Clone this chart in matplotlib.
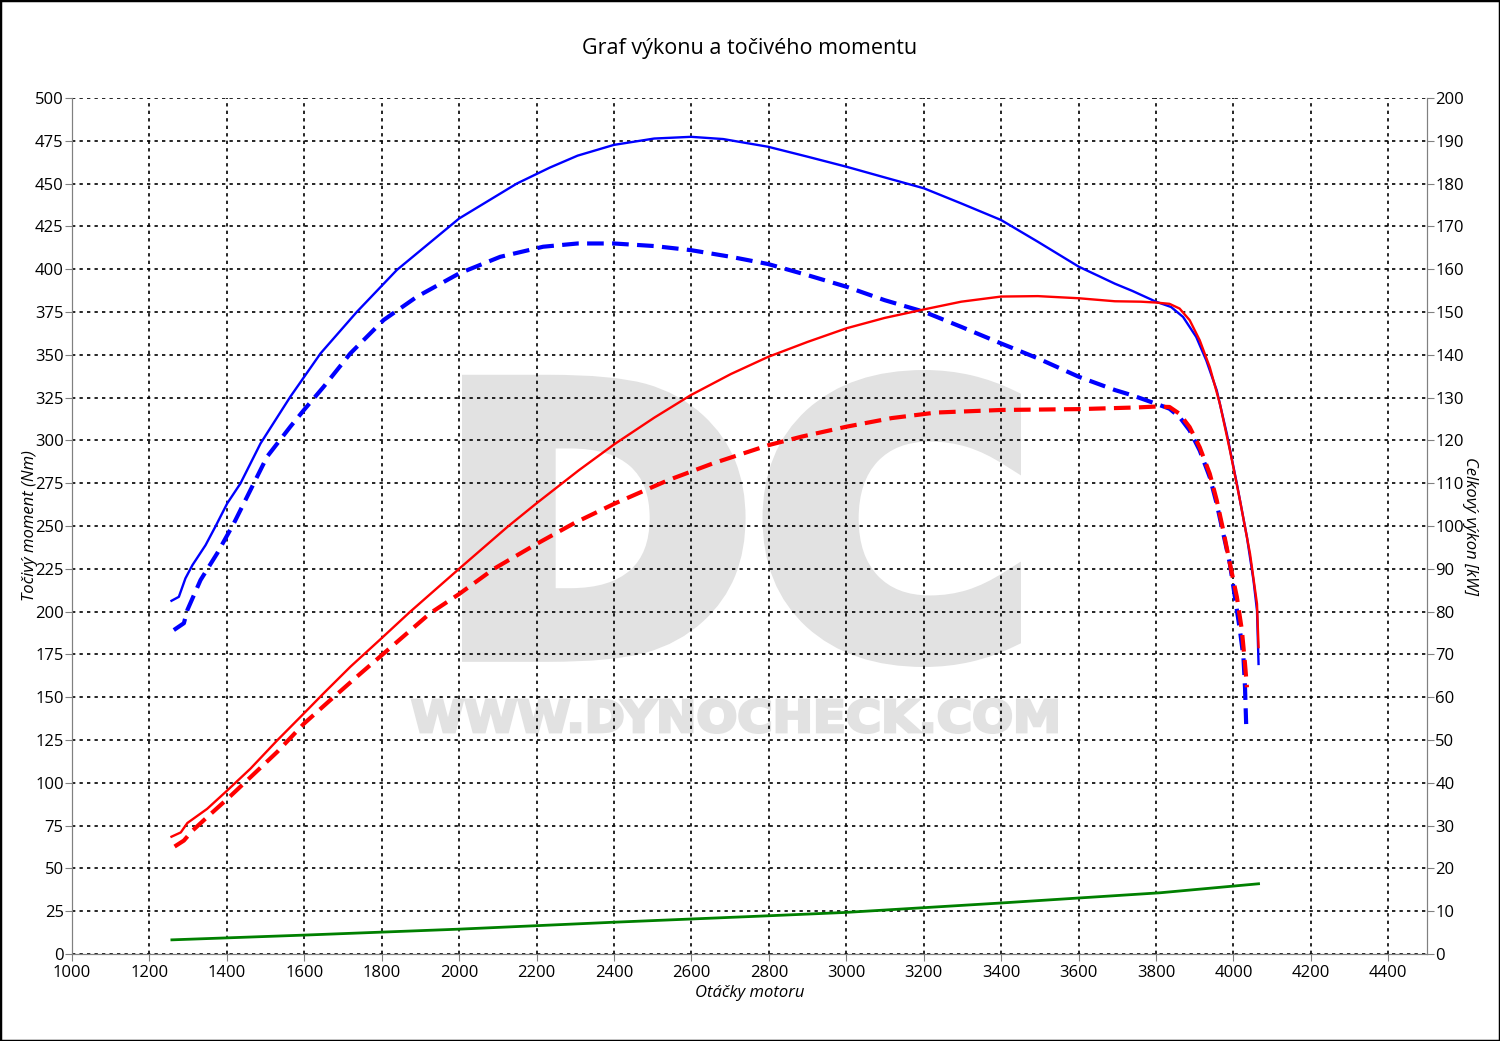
import numpy as np
import matplotlib.pyplot as plt
from matplotlib.textpath import TextPath
from matplotlib.patches import PathPatch, Rectangle
from matplotlib.font_manager import FontProperties
from matplotlib.transforms import Affine2D, IdentityTransform

plt.rcParams['font.family'] = ['Open Sans', 'DejaVu Sans']

### Data
# torque, tuned (Nm)
rpm_tq = [1257, 1276, 1293, 1311, 1345, 1371, 1401, 1435, 1487, 1564, 1642, 1736,
          1839, 2000, 2149, 2234, 2306, 2400, 2504, 2599, 2682, 2798, 2900, 3001,
          3099, 3201, 3297, 3400, 3495, 3601, 3652, 3694, 3739, 3800, 3839, 3870, 3904,
          3930, 3957, 3983, 4009, 4035, 4052, 4061, 4065]
torque = [206.3, 208.6, 219.4, 227.1, 238.8, 249.9, 263.2, 274.8, 298.2, 325.5, 350.8, 375.1,
          399.5, 429.6, 450.0, 459.3, 466.3, 472.6, 476.3, 477.3, 476.0, 471.5, 465.7, 459.8,
          453.6, 447.2, 438.4, 428.7, 416.0, 401.4, 396.0, 391.5, 387.3, 381.0, 377.9, 372.1, 360.4,
          346.7, 329.2, 303.9, 274.6, 243.5, 218.1, 200.6, 169.4]

# torque, stock (Nm)
rpm_tq0 = [1263, 1289, 1298, 1332, 1375, 1418, 1461, 1504, 1564, 1599, 1650, 1719,
           1805, 1891, 2000, 2106, 2217, 2306, 2400, 2504, 2599, 2702, 2798, 2900,
           3001, 3099, 3201, 3297, 3400, 3495, 3601, 3694, 3739, 3800, 3835, 3861,
           3887, 3913, 3939, 3957, 3974, 3991, 4004, 4017, 4026, 4030, 4033]
torque0 = [189.2, 193.2, 200.9, 218.4, 234.0, 251.5, 271.0, 290.5, 308.0, 317.7, 331.3, 350.8,
           370.3, 383.9, 397.5, 407.2, 413.1, 415.0, 415.0, 413.5, 411.1, 407.2, 403.0, 396.5,
           389.7, 381.9, 375.1, 366.3, 356.6, 347.9, 337.1, 329.4, 326.3, 321.4, 318.5, 313.6,
           305.8, 294.1, 278.5, 262.9, 245.4, 227.9, 208.4, 188.9, 173.3, 155.8, 134.3]

# power, tuned (kW)
rpm_pw = [1257, 1281, 1298, 1349, 1401, 1461, 1530, 1599, 1650, 1719, 1800, 1874,
          2000, 2125, 2200, 2309, 2401, 2504, 2599, 2702, 2798, 2900, 3001, 3099,
          3201, 3297, 3400, 3495, 3601, 3694, 3761, 3800, 3835, 3861, 3887, 3913,
          3939, 3965, 3991, 4017, 4043, 4061, 4065]
power = [27.4, 28.4, 30.6, 33.9, 38.2, 43.3, 49.9, 56.2, 60.9, 67.1, 73.8, 80.0,
         90.0, 99.8, 105.3, 113.0, 119.1, 125.3, 130.6, 135.5, 139.5, 143.0, 146.2, 148.6,
         150.6, 152.4, 153.6, 153.7, 153.2, 152.5, 152.4, 152.2, 151.9, 150.8, 148.1, 143.4,
         137.1, 128.6, 117.7, 106.0, 93.5, 81.8, 71.7]

# power, stock (kW)
rpm_pw0 = [1265, 1289, 1311, 1358, 1401, 1461, 1530, 1599, 1667, 1736, 1800, 1865,
           1925, 2000, 2090, 2200, 2298, 2401, 2540, 2655, 2800, 2886, 3001, 3117,
           3232, 3400, 3601, 3753, 3800, 3835, 3861, 3887, 3913, 3939, 3957, 3974,
           3991, 4009, 4022, 4030, 4035]
power0 = [25.1, 26.5, 28.8, 32.7, 36.2, 41.3, 47.2, 53.8, 59.3, 64.8, 69.8, 74.9,
          79.6, 84.1, 90.0, 95.8, 100.7, 105.2, 110.7, 114.6, 118.9, 120.9, 123.2, 125.2,
          126.5, 127.1, 127.3, 127.7, 127.9, 127.8, 126.2, 123.1, 118.4, 112.2, 106.0, 98.9,
          91.2, 83.4, 75.6, 67.8, 62.3]

# loss power (kW)
rpm_loss = [1258, 1597, 2000, 2395, 2793, 2997, 3398, 3811, 4065]
loss = [3.3, 4.4, 5.8, 7.4, 8.9, 9.7, 11.9, 14.3, 16.4]

xticks = np.arange(1000, 4401, 200)

fig = plt.figure(figsize=(15, 10.41), dpi=100)
ax = fig.add_axes([0.048, 0.0836, 0.9033, 0.8223])
ax2 = ax.twinx()

# watermark, boxes in display pixels
def watermark(text, box, stroke):
    fp = FontProperties(family='DejaVu Sans', weight='bold')
    tp = TextPath((0, 0), text, prop=fp)
    ext = tp.get_extents()
    x0, y0, x1, y1 = box
    s = stroke / 2
    tr = Affine2D().translate(-ext.x0, -ext.y0).scale((x1 - x0 - stroke) / ext.width,
                                                       (y1 - y0 - stroke) / ext.height)
    tr = tr.translate(x0 + s, y0 + s)
    p = PathPatch(tr.transform_path(tp), facecolor='#e2e2e2', edgecolor='#e2e2e2',
                  lw=stroke * 0.72, joinstyle='miter',
                  transform=IdentityTransform(), zorder=0.1)
    ax.add_artist(p)

watermark('DC', (462, 374, 1021, 671), 22)
watermark('WWW.DYNOCHECK.COM', (411, 307, 1058, 343), 3)

ax.set_axisbelow(True)
ax.grid(True, color='black', linestyle=(0, (2, 2.5)), linewidth=1.2, zorder=0.5)

ax.plot(rpm_tq, torque, color='#0000ff', lw=1.7, zorder=3)
ax.plot(rpm_tq0, torque0, color='#0000ff', lw=3, linestyle=(0, (4, 2)), zorder=3)
ax2.plot(rpm_pw, power, color='#ff0000', lw=1.7, zorder=3)
ax2.plot(rpm_pw0, power0, color='#ff0000', lw=3, linestyle=(0, (4, 2)), zorder=3)
ax2.plot(rpm_loss, loss, color='#008000', lw=2, zorder=3)

ax.set_xlim(1000, 4500)
ax.set_ylim(0, 500)
ax2.set_ylim(0, 200)
ax.set_xticks(xticks)
ax.set_yticks(np.arange(0, 501, 25))
ax2.set_yticks(np.arange(0, 201, 10))

for a in (ax, ax2):
    a.tick_params(length=5, color='#808080', labelsize=12, pad=1)
    for s in a.spines.values():
        s.set_color('#808080')
    a.spines['top'].set_visible(False)
ax.tick_params(axis='x', pad=3)

ax.set_xlabel('Otáčky motoru', fontstyle='italic', fontsize=12)
ax.set_ylabel('Točivý moment (Nm)', fontstyle='italic', fontsize=12)
ax2.set_ylabel('Celkový výkon [kW]', fontstyle='italic', fontsize=12, rotation=-90)
ax.xaxis.set_label_coords(0.5, -0.0456)
ax.yaxis.set_label_coords(-0.031, 0.5)
ax2.yaxis.set_label_coords(1.0317, 0.5)
ax.xaxis.label.set_va('center')
ax.yaxis.label.set_va('center')
ax2.yaxis.label.set_va('center')
fig.text(0.5, 0.953, 'Graf výkonu a točivého momentu', ha='center', va='center', fontsize=15.5)

fig.patches.append(Rectangle((0, 0), 1, 1, transform=fig.transFigure, fill=False,
                             edgecolor='black', lw=2.5))

fig.savefig('out.png', dpi=100)
